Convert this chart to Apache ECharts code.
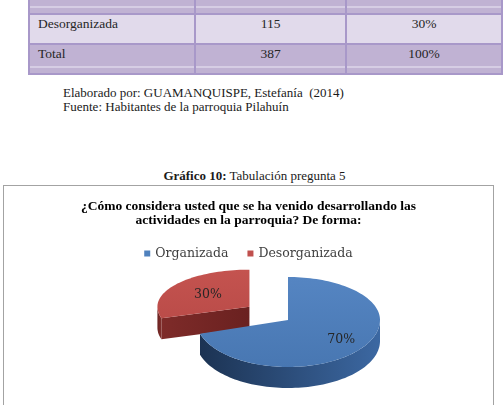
<!DOCTYPE html>
<html>
<head>
<meta charset="utf-8">
<script src="https://cdn.jsdelivr.net/npm/echarts@6/dist/echarts.min.js"></script>
<style>
  body { margin: 0; width: 503px; height: 405px; overflow: hidden; background: #fff; position: relative;
         font-family: "Liberation Serif", serif; color: #1a1a1a; }
  .tbl { position: absolute; left: 28px; top: -19px; border-collapse: collapse; font-size: 13.5px; table-layout: fixed; }
  .tbl td { border: 2px solid #a898c9; height: 27px; padding: 1px 0 0 0; vertical-align: top; text-align: center; color: #262626; }
  .tbl tr:first-child td { height: 29px; }
  .tbl td:first-child { text-align: left; padding-left: 8px; }
  .tbl tr.dark td { background: linear-gradient(to bottom, #c0b2d3 0, #c0b2d3 calc(100% - 7px), #d6cde4 calc(100% - 7px), #d6cde4 calc(100% - 5px), #c0b2d3 calc(100% - 5px)); }
  .tbl tr.light td { background: #e1daeb; }
  .note { position: absolute; left: 63px; top: 86px; font-size: 13px; line-height: 14px; }
  .caption { position: absolute; left: 3px; width: 503px; top: 168px; text-align: center; font-size: 13px; }
  #box { position: absolute; left: 3px; top: 185px; width: 491px; height: 240px; box-sizing: border-box;
         border: 1px solid #a3a3a3; background: #fff; }
  #chart { width: 489px; height: 238px; }
</style>
</head>
<body>
<table class="tbl" id="tbl"></table>
<div class="note">Elaborado por: GUAMANQUISPE, Estefanía&nbsp; (2014)<br>Fuente: Habitantes de la parroquia Pilahuín</div>
<div class="caption"><b>Gráfico 10:</b> Tabulación pregunta 5</div>
<div id="box"><div id="chart"></div></div>

<script>
// table data
var tableLabels = ["Organizada", "Desorganizada", "Total"];
var tableCounts = [272, 115, 387];
var tablePercents = ["70%", "30%", "100%"];

// pie data
var categories = ["Organizada", "Desorganizada"];
var counts = [272, 115];

var tbl = document.getElementById("tbl");
tableLabels.forEach(function (label, i) {
  var tr = document.createElement("tr");
  tr.className = i % 2 === 0 ? "dark" : "light";
  [label, tableCounts[i], tablePercents[i]].forEach(function (v, j) {
    var td = document.createElement("td");
    td.style.width = j === 2 ? "170px" : "166px";
    td.textContent = v;
    tr.appendChild(td);
  });
  tbl.appendChild(tr);
});

// 3d pie look (back / front half radii fake a bit of perspective)
var CX = 284, CY = 134, RX = 92, DEPTH = 21;
var ryBack = [43, 37], ryFront = [47, 40];
var explode = [0, 48];
var labelPos = [0.72, 0.56];
var looks = [
  { top: ["#5585c2", "#4877b2"], wall: ["#3c68a2", "#1c3353"], cut: ["#2c4e7e", "#1f3a5e"] },
  { top: ["#c4534f", "#bb4c49"], wall: ["#82302d", "#6a2220"], cut: ["#7e2b29", "#6a2120"] }
];

var total = counts.reduce(function (a, b) { return a + b; }, 0);
var starts = [];
counts.reduce(function (acc, v, i) { starts[i] = acc; return acc + v; }, 0);

function pt(i, cx, cy, a, dy) {
  var r = a * Math.PI / 180;
  var c = Math.cos(r);
  var ry = c > 0 ? ryBack[i] : ryFront[i];
  return [cx + RX * Math.sin(r), cy - ry * c + (dy || 0)];
}
function arc(i, cx, cy, a0, a1, dy) {
  var pts = [];
  var n = Math.max(2, Math.ceil((a1 - a0) / 2));
  for (var k = 0; k <= n; k++) pts.push(pt(i, cx, cy, a0 + (a1 - a0) * k / n, dy));
  return pts;
}
function grad(c, vertical) {
  return { type: "linear", x: 0, y: 0, x2: vertical ? 0 : 1, y2: vertical ? 1 : 0,
           colorStops: [{ offset: 0, color: c[0] }, { offset: 1, color: c[1] }] };
}

function renderSlice(i) {
  return function (params, api) {
    var v = api.value(0);
    var a0 = starts[i] / total * 360;
    var a1 = a0 + v / total * 360;
    var mid = (a0 + a1) / 2 * Math.PI / 180;
    var cx = CX + explode[i] * Math.sin(mid);
    var cy = CY - explode[i] * Math.cos(mid) * ryBack[0] / RX;
    var look = looks[i];
    var children = [];

    // cut face on the start side, visible when it faces the front
    if (a0 > 180 && a0 < 360) {
      var e = pt(i, cx, cy, a0);
      children.push({ type: "polygon", shape: { points: [[cx, cy], e, [e[0], e[1] + DEPTH], [cx, cy + DEPTH]] },
                      style: { fill: grad(look.cut) } });
    }
    // outer wall, front half only
    var w0 = Math.max(a0, 90), w1 = Math.min(a1, 270);
    if (w1 > w0) {
      var topArc = arc(i, cx, cy, w0, w1);
      var botArc = arc(i, cx, cy, w0, w1, DEPTH).reverse();
      children.push({ type: "polygon", shape: { points: topArc.concat(botArc) },
                      style: { fill: grad([look.wall[1], look.wall[0]]) } });
    }
    // top face
    children.push({ type: "polygon", shape: { points: [[cx, cy]].concat(arc(i, cx, cy, a0, a1)) },
                    style: { fill: grad(look.top, true) } });
    // label
    var f = labelPos[i];
    var lp = pt(i, cx, cy, (a0 + a1) / 2);
    children.push({ type: "text", x: cx + f * (lp[0] - cx), y: cy + f * (lp[1] - cy),
                    style: { text: Math.round(v / total * 100) + "%", fill: "#262626",
                             font: "12.5px 'DejaVu Serif'", align: "center", verticalAlign: "middle" } });
    return { type: "group", children: children };
  };
}

var chart = echarts.init(document.getElementById("chart"));
chart.setOption({
  animation: false,
  color: ["#4f81bd", "#c0504d"],
  title: {
    text: "¿Cómo considera usted que se ha venido desarrollando las\nactividades en la parroquia? De forma:",
    left: "center",
    top: 9,
    textStyle: { fontFamily: "Liberation Serif", fontWeight: "bold", fontSize: 13.5, lineHeight: 14, color: "#000" }
  },
  legend: {
    data: categories,
    top: 56,
    left: "center",
    icon: "rect",
    itemWidth: 6,
    itemHeight: 6,
    itemGap: 19,
    textStyle: { fontFamily: "DejaVu Serif", fontSize: 12.5, color: "#404040" }
  },
  series: categories.map(function (name, i) {
    return {
      type: "custom",
      name: name,
      coordinateSystem: "none",
      silent: true,
      z: i === 0 ? 3 : 2,
      itemStyle: { color: ["#4f81bd", "#c0504d"][i] },
      data: [[counts[i]]],
      renderItem: renderSlice(i)
    };
  })
});
</script>
</body>
</html>
